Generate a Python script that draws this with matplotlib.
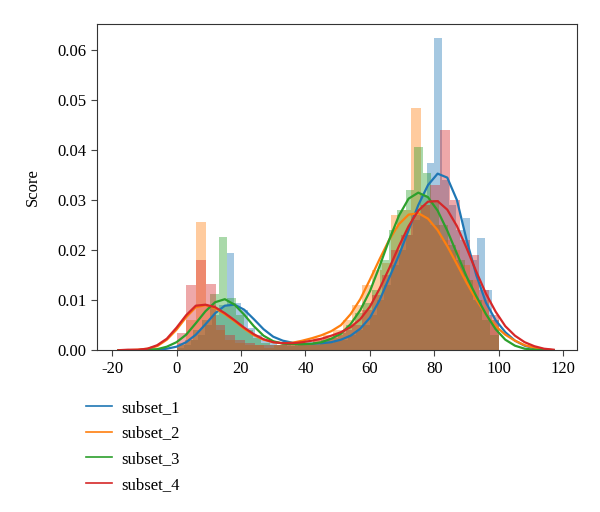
import numpy as np
import matplotlib
matplotlib.use('Agg')
import matplotlib.pyplot as plt

plt.rcParams['font.family'] = ['Liberation Serif', 'DejaVu Serif']
plt.rcParams['axes.unicode_minus'] = False

labels = ['subset_1', 'subset_2', 'subset_3', 'subset_4']
colors = ['#1f77b4', '#ff7f0e', '#2ca02c', '#d62728']

# histogram bin counts per subset (range 0..100) and bar heights (density)
n_bins = [45, 33, 38, 33]

hist_1 = [0.0005, 0.0010, 0.0020, 0.0030, 0.0050, 0.0070, 0.0090, 0.0195, 0.0095,
          0.0080, 0.0045, 0.0030, 0.0020, 0.0015, 0.0010, 0.0010, 0.0008, 0.0010,
          0.0010, 0.0010, 0.0015, 0.0015, 0.0020, 0.0020, 0.0030, 0.0040, 0.0050,
          0.0070, 0.0100, 0.0130, 0.0170, 0.0200, 0.0230, 0.0260, 0.0310, 0.0375,
          0.0625, 0.0340, 0.0290, 0.0240, 0.0265, 0.0180, 0.0225, 0.0120, 0.0060]
hist_2 = [0.0015, 0.0060, 0.0257, 0.0090, 0.0040, 0.0020, 0.0015, 0.0010, 0.0010,
          0.0005, 0.0010, 0.0010, 0.0015, 0.0015, 0.0025, 0.0030, 0.0040, 0.0060,
          0.0090, 0.0130, 0.0160, 0.0175, 0.0270, 0.0280, 0.0485, 0.0290, 0.0250,
          0.0220, 0.0200, 0.0170, 0.0140, 0.0100, 0.0060]
hist_3 = [0.0010, 0.0020, 0.0040, 0.0060, 0.0113, 0.0227, 0.0105, 0.0070, 0.0040,
          0.0025, 0.0015, 0.0010, 0.0010, 0.0008, 0.0010, 0.0010, 0.0015, 0.0020,
          0.0025, 0.0035, 0.0050, 0.0075, 0.0095, 0.0120, 0.0180, 0.0240, 0.0280,
          0.0320, 0.0407, 0.0355, 0.0300, 0.0250, 0.0210, 0.0180, 0.0140, 0.0100,
          0.0060, 0.0030]
hist_4 = [0.0035, 0.0130, 0.0180, 0.0133, 0.0050, 0.0030, 0.0020, 0.0015, 0.0010,
          0.0010, 0.0010, 0.0010, 0.0015, 0.0015, 0.0020, 0.0025, 0.0030, 0.0040,
          0.0050, 0.0080, 0.0110, 0.0150, 0.0200, 0.0230, 0.0270, 0.0290, 0.0330,
          0.0440, 0.0300, 0.0220, 0.0190, 0.0120, 0.0070]

# kde curves
kde_x = [-18, -15, -12, -9, -6, -3, 0, 3, 6, 9, 12, 15, 18, 21, 24, 27, 30, 33, 36, 39,
         42, 45, 48, 51, 54, 57, 60, 63, 66, 69, 72, 75, 78, 81, 84, 87, 90, 93, 96, 99,
         102, 105, 108, 111, 114, 117]
kde_1 = [0.0000, 0.0000, 0.0000, 0.0001, 0.0001, 0.0003, 0.0007, 0.0016, 0.0031, 0.0052,
         0.0074, 0.0089, 0.0091, 0.0081, 0.0062, 0.0042, 0.0027, 0.0019, 0.0015, 0.0013,
         0.0013, 0.0014, 0.0016, 0.0021, 0.0029, 0.0043, 0.0065, 0.0100, 0.0145, 0.0190,
         0.0240, 0.0290, 0.0330, 0.0353, 0.0345, 0.0300, 0.0220, 0.0150, 0.0095, 0.0060,
         0.0036, 0.0019, 0.0009, 0.0004, 0.0001, 0.0000]
kde_2 = [0.0000, 0.0000, 0.0001, 0.0003, 0.0008, 0.0021, 0.0041, 0.0066, 0.0086, 0.0090,
         0.0084, 0.0072, 0.0058, 0.0043, 0.0030, 0.0021, 0.0016, 0.0014, 0.0015, 0.0019,
         0.0024, 0.0030, 0.0038, 0.0050, 0.0072, 0.0102, 0.0141, 0.0182, 0.0221, 0.0252,
         0.0271, 0.0274, 0.0263, 0.0240, 0.0208, 0.0172, 0.0135, 0.0101, 0.0071, 0.0048,
         0.0031, 0.0019, 0.0010, 0.0005, 0.0002, 0.0000]
kde_3 = [0.0000, 0.0000, 0.0000, 0.0001, 0.0002, 0.0007, 0.0016, 0.0031, 0.0054, 0.0078,
         0.0096, 0.0102, 0.0091, 0.0071, 0.0048, 0.0029, 0.0018, 0.0013, 0.0012, 0.0012,
         0.0013, 0.0016, 0.0023, 0.0033, 0.0052, 0.0080, 0.0118, 0.0168, 0.0221, 0.0269,
         0.0303, 0.0315, 0.0306, 0.0279, 0.0239, 0.0193, 0.0147, 0.0108, 0.0072, 0.0042,
         0.0021, 0.0009, 0.0003, 0.0001, 0.0000, 0.0000]
kde_4 = [0.0000, 0.0001, 0.0001, 0.0003, 0.0010, 0.0023, 0.0045, 0.0070, 0.0089, 0.0091,
         0.0086, 0.0074, 0.0060, 0.0045, 0.0032, 0.0022, 0.0016, 0.0014, 0.0014, 0.0016,
         0.0019, 0.0023, 0.0029, 0.0036, 0.0046, 0.0062, 0.0087, 0.0123, 0.0164, 0.0208,
         0.0248, 0.0279, 0.0297, 0.0298, 0.0281, 0.0248, 0.0204, 0.0157, 0.0113, 0.0077,
         0.0048, 0.0029, 0.0016, 0.0008, 0.0003, 0.0001]

hists = [hist_1, hist_2, hist_3, hist_4]
kdes = [kde_1, kde_2, kde_3, kde_4]

fig = plt.figure(figsize=(6, 5.12), dpi=100)
ax = fig.add_axes([0.162, 0.316, 0.8, 0.637])

lines = []
for nb, h, k, c, lab in zip(n_bins, hists, kdes, colors, labels):
    edges = np.linspace(0, 100, nb + 1)
    ax.bar(edges[:-1], h, width=np.diff(edges), align='edge', color=c, alpha=0.4, linewidth=0)
    ln, = ax.plot(kde_x, k, color=c, lw=1.6, label=lab)
    lines.append(ln)

ax.set_xlim(-24.6, 124.3)
ax.set_ylim(0, 0.0652)
ax.set_xticks(range(-20, 121, 20))
ax.set_yticks([0, 0.01, 0.02, 0.03, 0.04, 0.05, 0.06])
ax.yaxis.set_major_formatter(matplotlib.ticker.FormatStrFormatter('%.2f'))
ax.tick_params(labelsize=12, color='#444444', length=4)
for s in ax.spines.values():
    s.set_color('#333333')
ax.set_ylabel('Score', fontsize=12, labelpad=12)

leg = fig.legend(handles=lines, loc='upper left', bbox_to_anchor=(0.143, 0.219),
                 frameon=False, fontsize=12, handlelength=1.6, handletextpad=0.55,
                 labelspacing=0.58, borderpad=0, borderaxespad=0)
for l in leg.get_lines():
    l.set_linewidth(1.2)

fig.savefig('out.png', dpi=100)
